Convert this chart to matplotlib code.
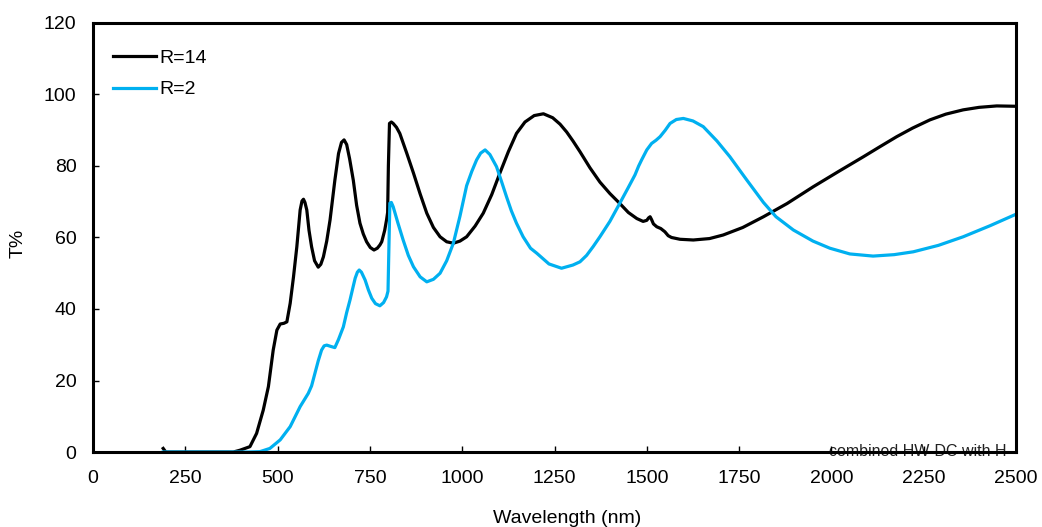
import matplotlib
matplotlib.use("Agg")
import matplotlib.pyplot as plt

plt.rcParams['font.family'] = ['Liberation Sans', 'DejaVu Sans']

# R=14 (black)
wl_r14 = [190, 197, 300, 380, 398, 425, 443, 461, 475, 488, 498, 507, 517, 525, 534, 543, 552, 561, 566, 570,
          574, 579, 585, 592, 600, 610, 617, 624, 633, 642, 655, 665, 673, 680, 687, 695, 705, 714, 723, 732,
          741, 751, 761, 770, 777, 782, 790, 795, 798, 800, 803, 808, 813, 822, 831, 850, 868, 886, 904, 922,
          940, 958, 976, 994, 1012, 1035, 1057, 1080, 1102, 1125, 1147, 1170, 1195, 1220, 1245, 1265, 1283,
          1300, 1319, 1346, 1373, 1400, 1427, 1450, 1473, 1490, 1500, 1505, 1509, 1513, 1518, 1527, 1538,
          1549, 1558, 1567, 1590, 1626, 1670, 1707, 1760, 1816, 1880, 1951, 2020, 2087, 2130, 2177, 2220,
          2267, 2310, 2357, 2400, 2448, 2500]
t_r14 = [1.0, 0, 0, 0, 0.5, 1.5, 5.2, 11.7, 18.3, 28.5, 34.1, 35.8, 36, 36.4, 41.6, 49, 57.4, 67.7, 70.2, 70.7,
         69.8, 67.7, 62, 57.4, 53.5, 51.7, 52.5, 54.6, 59, 64.9, 76, 83.5, 86.6, 87.3, 86, 82, 76, 69, 64, 61,
         58.8, 57.2, 56.5, 57, 57.9, 58.8, 62, 64.9, 67, 80, 91.9, 92.3, 91.9, 90.8, 89.1, 83.5, 78, 72.2, 66.8, 62.8,
         60.2, 58.8, 58.4, 59, 60.2, 63.2, 66.8, 72, 78, 84, 89.1, 92.3, 94.1, 94.6, 93.5, 91.7, 89.5,
         87, 84, 79.5, 75.5, 72.3, 69.5, 67, 65.3, 64.5, 64.8, 65.5, 65.8, 65, 63.8, 63, 62.5,
         61.6, 60.5, 60, 59.5, 59.3, 59.7, 60.7, 62.8, 65.8, 69.5, 74.2, 78.5, 82.6, 85.3, 88.2, 90.6,
         92.9, 94.5, 95.7, 96.4, 96.8, 96.7]

# R=2 (blue)
wl_r2 = [190, 300, 420, 452, 479, 507, 534, 561, 583, 592, 601, 610, 619, 626, 633, 645, 655, 665, 678, 687,
         696, 704, 710, 716, 721, 727, 737, 746, 755, 765, 777, 787, 795, 799, 801, 804, 808, 813, 826, 840,
         854, 868, 886, 904, 922, 940, 958, 976, 994, 1012, 1026, 1039, 1050, 1062, 1075, 1093, 1107, 1120,
         1133, 1147, 1165, 1185, 1202, 1235, 1269, 1300, 1319, 1337, 1355, 1373, 1400, 1427, 1450, 1468,
         1478, 1486, 1500, 1513, 1525, 1536, 1550, 1563, 1580, 1599, 1625, 1653, 1690, 1725, 1770, 1816,
         1850, 1897, 1950, 1996, 2050, 2113, 2170, 2222, 2290, 2357, 2430, 2500]
t_r2 = [0, 0, 0, 0.1, 1, 3.4, 7.1, 12.7, 16.4, 18.5, 22, 25.5, 28.5, 29.7, 29.9, 29.5, 29.2, 31.5, 35, 39,
        42.5, 46, 48.6, 50.3, 50.9, 50.3, 48.1, 45.3, 43, 41.5, 40.9, 41.8, 43.4, 45, 55, 69.6, 69.8, 68.6, 64, 59.3,
        55, 51.8, 49, 47.6, 48.3, 50, 53.5, 58.4, 66, 74.5, 78.5, 81.7, 83.6, 84.5, 83.2, 79.8, 75.5, 71.4,
        67.5, 64, 60.2, 57, 55.6, 52.6, 51.4, 52.3, 53.2, 55, 57.5, 60.2, 64.5, 69.6, 74, 77.5,
        80, 81.7, 84.5, 86.3, 87.2, 88.2, 90, 91.9, 93, 93.3, 92.6, 91, 87, 82.6, 76.2, 69.8,
        65.8, 62.1, 59, 57, 55.4, 54.8, 55.2, 56, 57.8, 60.2, 63.3, 66.5]

x_ticks = [0, 250, 500, 750, 1000, 1250, 1500, 1750, 2000, 2250, 2500]
y_ticks = [0, 20, 40, 60, 80, 100, 120]

fig = plt.figure(figsize=(10.42, 5.27), dpi=100)
ax = fig.add_axes([0.0893, 0.1423, 0.8857, 0.8141])

ax.plot(wl_r14, t_r14, color='black', lw=2.3, label='R=14', solid_joinstyle='round')
ax.plot(wl_r2, t_r2, color='#00B0F0', lw=2.3, label='R=2', solid_joinstyle='round')

ax.set_xlim(0, 2500)
ax.set_ylim(0, 120)
ax.set_xticks(x_ticks)
ax.set_yticks(y_ticks)
ax.tick_params(axis='both', direction='in', length=4, width=1, labelsize=14)
ax.tick_params(axis='x', pad=13)
ax.tick_params(axis='y', pad=12)
for s in ax.spines.values():
    s.set_linewidth(2.2)

ax.set_xlabel('Wavelength (nm)', fontsize=14, va='top')
ax.xaxis.set_label_coords(0.5135, -0.136)
ax.set_ylabel('T%', fontsize=14, va='center')
ax.yaxis.set_label_coords(-0.081, 0.487)

leg = ax.legend(loc='upper left', bbox_to_anchor=(0.013, 0.956), frameon=False, fontsize=14,
                handlelength=2.2, handletextpad=0.2, borderaxespad=0.0, labelspacing=0.7)

ax.text(0.99, -0.009, 'combined HW-DC with H', transform=ax.transAxes, ha='right',
        va='baseline', fontsize=11.5, color='#222222', zorder=1)

fig.savefig('out.png', dpi=100)
